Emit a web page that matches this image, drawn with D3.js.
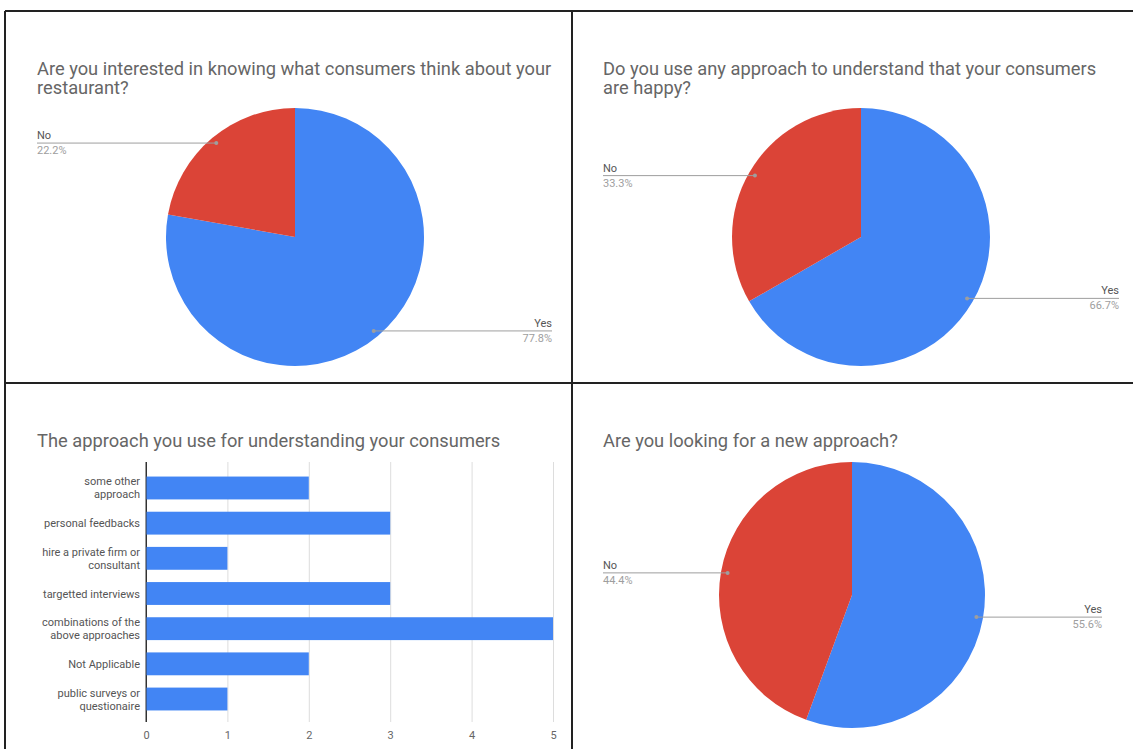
<!DOCTYPE html>
<html>
<head>
<meta charset="utf-8">
<script src="https://cdn.jsdelivr.net/npm/d3@7"></script>
<style>
  body { margin: 0; background: #fff; }
  text { font-family: Roboto, "Noto Sans", sans-serif; }
</style>
</head>
<body>
<div id="chart"></div>
<script>
// --- data ---
const pieLabels = ['Yes', 'No'];
const interestedValues = [77.8, 22.2];
const happyValues = [66.7, 33.3];
const newApproachValues = [55.6, 44.4];

const barCategories = [
  'some other approach',
  'personal feedbacks',
  'hire a private firm or consultant',
  'targetted interviews',
  'combinations of the above approaches',
  'Not Applicable',
  'public surveys or questionaire'
];
const barTickLabels = [
  ['some other', 'approach'],
  ['personal feedbacks'],
  ['hire a private firm or', 'consultant'],
  ['targetted interviews'],
  ['combinations of the', 'above approaches'],
  ['Not Applicable'],
  ['public surveys or', 'questionaire']
];
const barValues = [2, 3, 1, 3, 5, 2, 1];
const xTicks = [0, 1, 2, 3, 4, 5];

const titles = [
  ['Are you interested in knowing what consumers think about your', 'restaurant?'],
  ['Do you use any approach to understand that your consumers', 'are happy?'],
  ['The approach you use for understanding your consumers'],
  ['Are you looking for a new approach?']
];

const blue = '#4285f4', red = '#db4437';

const svg = d3.select('#chart').append('svg')
  .attr('width', 1133)
  .attr('height', 749);

// panel frame
const frame = svg.append('g').attr('stroke', '#222').attr('stroke-width', 2);
frame.append('line').attr('x1', 5).attr('x2', 1140).attr('y1', 11).attr('y2', 11);
frame.append('line').attr('x1', 5).attr('x2', 5).attr('y1', 11).attr('y2', 760);
frame.append('line').attr('x1', 572).attr('x2', 572).attr('y1', 11).attr('y2', 760);
frame.append('line').attr('x1', 5).attr('x2', 1140).attr('y1', 383).attr('y2', 383);

function drawTitle(lines, x, y) {
  const t = svg.append('text')
    .attr('x', x).attr('y', y)
    .attr('fill', '#666')
    .style('font-size', '18.3px');
  lines.forEach((l, i) => {
    t.append('tspan').attr('x', x).attr('dy', i ? 19 : 0).text(l);
  });
}

function drawPie(values, cx, cy, r, leftX, rightX) {
  const g = svg.append('g').attr('transform', `translate(${cx},${cy})`);
  const total = d3.sum(values);
  const arcs = d3.pie().sort(null).value(d => d)(values);
  const arc = d3.arc().innerRadius(0).outerRadius(r);
  const labelArc = d3.arc().innerRadius(r * 0.95).outerRadius(r * 0.95);
  const colors = [blue, red];

  g.selectAll('path')
    .data(arcs)
    .enter().append('path')
    .attr('d', arc)
    .attr('fill', (d, i) => colors[i]);

  arcs.forEach((a, i) => {
    const [px, py] = labelArc.centroid(a);
    const onRight = px > 0;
    const lx = (onRight ? rightX : leftX) - cx;
    const anchor = onRight ? 'end' : 'start';
    g.append('line')
      .attr('x1', px).attr('x2', lx)
      .attr('y1', py).attr('y2', py)
      .attr('stroke', '#9e9e9e').attr('stroke-width', 1);
    g.append('circle')
      .attr('cx', px).attr('cy', py).attr('r', 2)
      .attr('fill', '#9e9e9e');
    g.append('text')
      .attr('x', lx).attr('y', py - 4)
      .attr('text-anchor', anchor)
      .attr('fill', '#555')
      .style('font-size', '11px')
      .text(pieLabels[i]);
    g.append('text')
      .attr('x', lx).attr('y', py + 11)
      .attr('text-anchor', anchor)
      .attr('fill', '#9e9e9e')
      .style('font-size', '11px')
      .text(d3.format('.1%')(values[i] / total));
  });
}

// top-left pie
drawTitle(titles[0], 37, 75);
drawPie(interestedValues, 295, 237, 129, 37, 552);

// top-right pie
drawTitle(titles[1], 603, 75);
drawPie(happyValues, 861, 237, 129, 603, 1119);

// bottom-right pie
drawTitle(titles[3], 603, 447);
drawPie(newApproachValues, 852, 595, 133, 603, 1102);

// bottom-left bar chart
drawTitle(titles[2], 37, 447);

const gridTop = 462, gridBottom = 722;

const x = d3.scaleLinear()
  .domain([0, 5])
  .range([146, 553]);

const y = d3.scaleBand()
  .domain(barCategories)
  .range([466, 721])
  .paddingInner(0.35)
  .paddingOuter(0.3);

// gridlines + tick labels
const xAxis = svg.append('g')
  .attr('transform', `translate(0,${gridBottom})`)
  .call(d3.axisBottom(x).tickValues(xTicks).tickSize(-(gridBottom - gridTop)).tickPadding(9).tickFormat(d3.format('d')));
xAxis.select('.domain').remove();
xAxis.selectAll('.tick line')
  .attr('stroke', d => d === 0 ? '#333' : '#ddd');
xAxis.selectAll('.tick text')
  .attr('fill', '#666')
  .style('font-size', '11px');

svg.selectAll('.bar')
  .data(barValues)
  .enter().append('rect')
  .attr('class', 'bar')
  .attr('x', x(0))
  .attr('y', (d, i) => y(barCategories[i]))
  .attr('width', d => x(d) - x(0))
  .attr('height', y.bandwidth())
  .attr('fill', blue);

// redraw zero line on top of bars
svg.append('line')
  .attr('x1', x(0)).attr('x2', x(0))
  .attr('y1', gridTop).attr('y2', gridBottom)
  .attr('stroke', '#333');

// category labels
const yAxis = svg.append('g')
  .attr('transform', `translate(${x(0)},0)`)
  .call(d3.axisLeft(y).tickSize(0).tickPadding(6).tickFormat(''));
yAxis.select('.domain').remove();
yAxis.selectAll('.tick').each(function(d, i) {
  const lines = barTickLabels[i];
  const t = d3.select(this).append('text')
    .attr('x', -6)
    .attr('text-anchor', 'end')
    .attr('fill', '#555')
    .style('font-size', '11px');
  lines.forEach((l, k) => {
    t.append('tspan')
      .attr('x', -6)
      .attr('y', (k - (lines.length - 1) / 2) * 13 + 4)
      .text(l);
  });
});
</script>
</body>
</html>
